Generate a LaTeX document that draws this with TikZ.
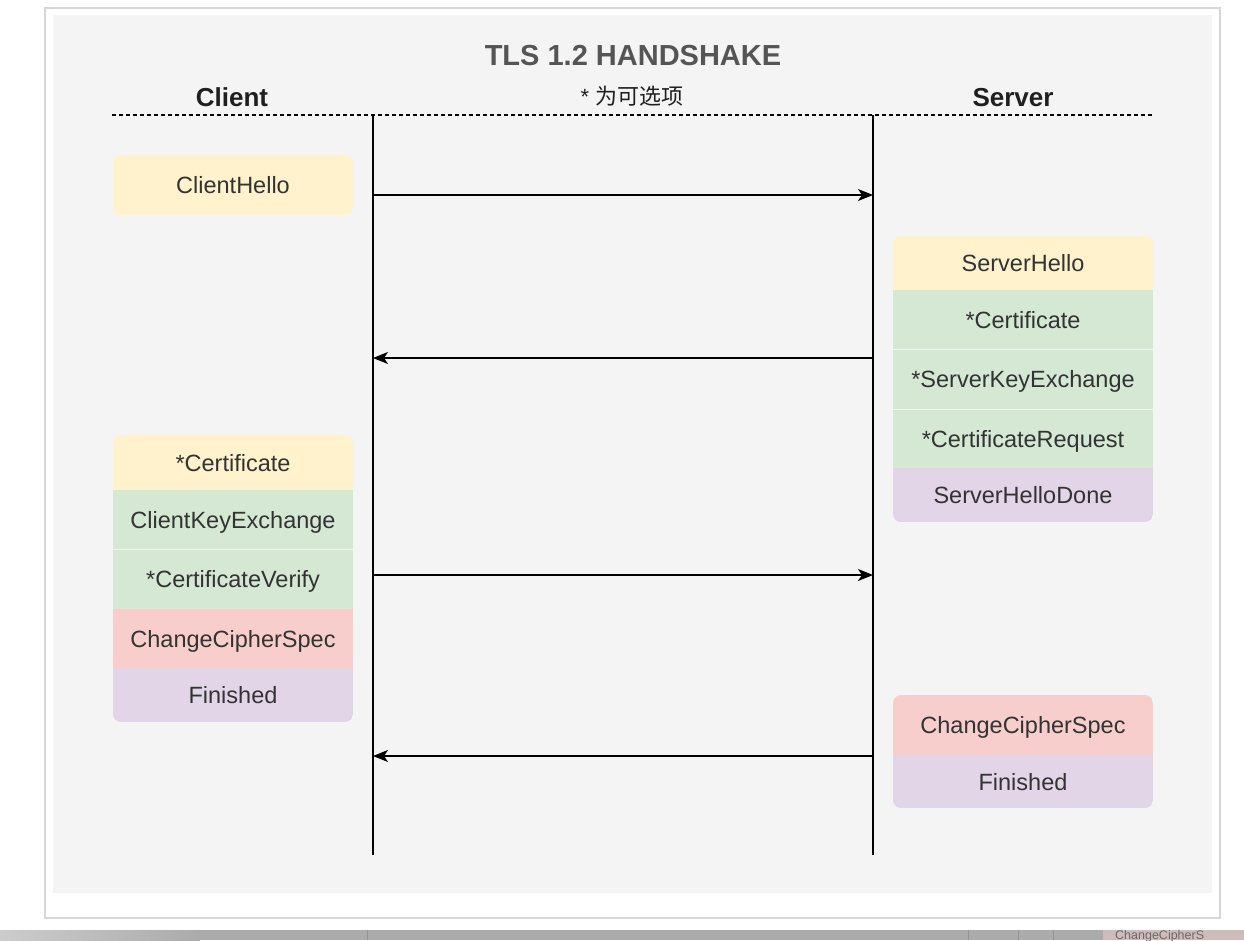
\documentclass[tikz,border=0pt]{standalone}
\usepackage{fontspec}
\setmainfont{Liberation Sans}
\newfontfamily\cjk{Noto Sans CJK SC}
\usetikzlibrary{arrows.meta}
\definecolor{panel}{HTML}{F4F4F4}
\definecolor{framec}{HTML}{D6D6D6}
\definecolor{yel}{HTML}{FFF2CC}
\definecolor{grn}{HTML}{D5E8D4}
\definecolor{red}{HTML}{F8CECC}
\definecolor{pur}{HTML}{E1D5E7}
\definecolor{txt}{HTML}{333333}
\definecolor{ttl}{HTML}{555555}
\definecolor{band}{HTML}{ABABAB}
\begin{document}
\begin{tikzpicture}[x=1pt,y=-1pt,
  sect/.style={rectangle, inner sep=0pt, minimum width=240pt, text height=17pt, text depth=0pt,
    text=txt, font=\fontsize{23.5}{28}\selectfont},
  csect/.style={sect, minimum width=240pt},
  ssect/.style={sect, minimum width=260pt},
  lifeline/.style={line width=1.4pt, black},
  msg/.style={line width=1.4pt, black, -{Stealth[length=15pt,width=12pt,inset=4pt]}},
  divider/.style={white, opacity=0.6, line width=1pt},
  header/.style={font=\fontsize{26}{30}\selectfont\bfseries, text=black!88, anchor=base}]
\useasboundingbox (0,0) rectangle (1244,940);
% page and bottom band
\fill[white] (0,0) rectangle (1244,940);
\fill[band] (0,930) rectangle (1244,940);
\shade[left color=black!20, right color=band] (0,930) rectangle (200,940);
\draw[black!42, line width=0.8pt] (367,930) -- (367,940) (968,930) -- (968,940) (1018,930) -- (1018,940) (1053,930) -- (1053,940);
\fill[red!45!band] (1103,930) rectangle (1244,940);
\node[anchor=base west, inner sep=0pt, text=black!58, font=\fontsize{12.5}{14}\selectfont] (frag) at (1115,939) {ChangeCipherS};
% frame
\draw[framec, line width=1.2pt, fill=white] (45,8) rectangle (1220,918);
\fill[panel] (53,15) rectangle (1212,893);
% titles
\node[anchor=base, font=\fontsize{29}{34}\selectfont\bfseries, text=ttl] (title) at (633,65) {TLS 1.2 HANDSHAKE};
\node[header] (client) at (232,106) {Client};
\node[header] (server) at (1013,106) {Server};
\node[anchor=base, font=\fontsize{22}{26}\selectfont, text=black!88] (note) at (632,104) {* {\cjk 为可选项}};
\draw[black, line width=1.2pt, dash pattern=on 4pt off 3pt] (112,115) -- (1152,115);
% lifelines
\coordinate (CT) at (373,115);
\coordinate (CB) at (373,855);
\coordinate (ST) at (873,115);
\coordinate (SB) at (873,855);
\draw[lifeline] (CT) -- (CB);
\draw[lifeline] (ST) -- (SB);
% ClientHello
\begin{scope}
  \clip[rounded corners=8pt] (113,155) rectangle (353,215);
  \node[csect, fill=yel, minimum height=60pt] (chello) at (233,185) {ClientHello};
\end{scope}
% Server block 1
\begin{scope}
  \clip[rounded corners=8pt] (893,236) rectangle (1153,522);
  \node[ssect, fill=yel, minimum height=54pt] (shello) at (1023,263) {ServerHello};
  \node[ssect, fill=grn, minimum height=59pt] (scert) at (1023,319.5) {*Certificate};
  \node[ssect, fill=grn, minimum height=60pt] (skex) at (1023,379) {*ServerKeyExchange};
  \node[ssect, fill=grn, minimum height=59pt] (sreq) at (1023,438.5) {*CertificateRequest};
  \node[ssect, fill=pur, minimum height=54pt] (sdone) at (1023,495) {ServerHelloDone};
  \draw[divider] (scert.south west) -- (scert.south east);
  \draw[divider] (skex.south west) -- (skex.south east);
\end{scope}
% Client block 2
\begin{scope}
  \clip[rounded corners=8pt] (113,435) rectangle (353,722);
  \node[csect, fill=yel, minimum height=55pt] (ccert) at (233,462.5) {*Certificate};
  \node[csect, fill=grn, minimum height=59pt] (ckex) at (233,519.5) {ClientKeyExchange};
  \node[csect, fill=grn, minimum height=60pt] (cver) at (233,579) {*CertificateVerify};
  \node[csect, fill=red, minimum height=59pt] (cccs) at (233,638.5) {ChangeCipherSpec};
  \node[csect, fill=pur, minimum height=54pt] (cfin) at (233,695) {Finished};
  \draw[divider] (ckex.south west) -- (ckex.south east);
\end{scope}
% Server block 2
\begin{scope}
  \clip[rounded corners=8pt] (893,695) rectangle (1153,808);
  \node[ssect, fill=red, minimum height=60pt] (sccs) at (1023,725) {ChangeCipherSpec};
  \node[ssect, fill=pur, minimum height=53pt] (sfin) at (1023,781.5) {Finished};
\end{scope}
% messages
\coordinate (c1) at (373,195); \coordinate (s1) at (873,195);
\coordinate (c2) at (373,358); \coordinate (s2) at (873,358);
\coordinate (c3) at (373,575); \coordinate (s3) at (873,575);
\coordinate (c4) at (373,756); \coordinate (s4) at (873,756);
\draw[msg] (c1) -- (s1);
\draw[msg] (s2) -- (c2);
\draw[msg] (c3) -- (s3);
\draw[msg] (s4) -- (c4);
\end{tikzpicture}
\end{document}
